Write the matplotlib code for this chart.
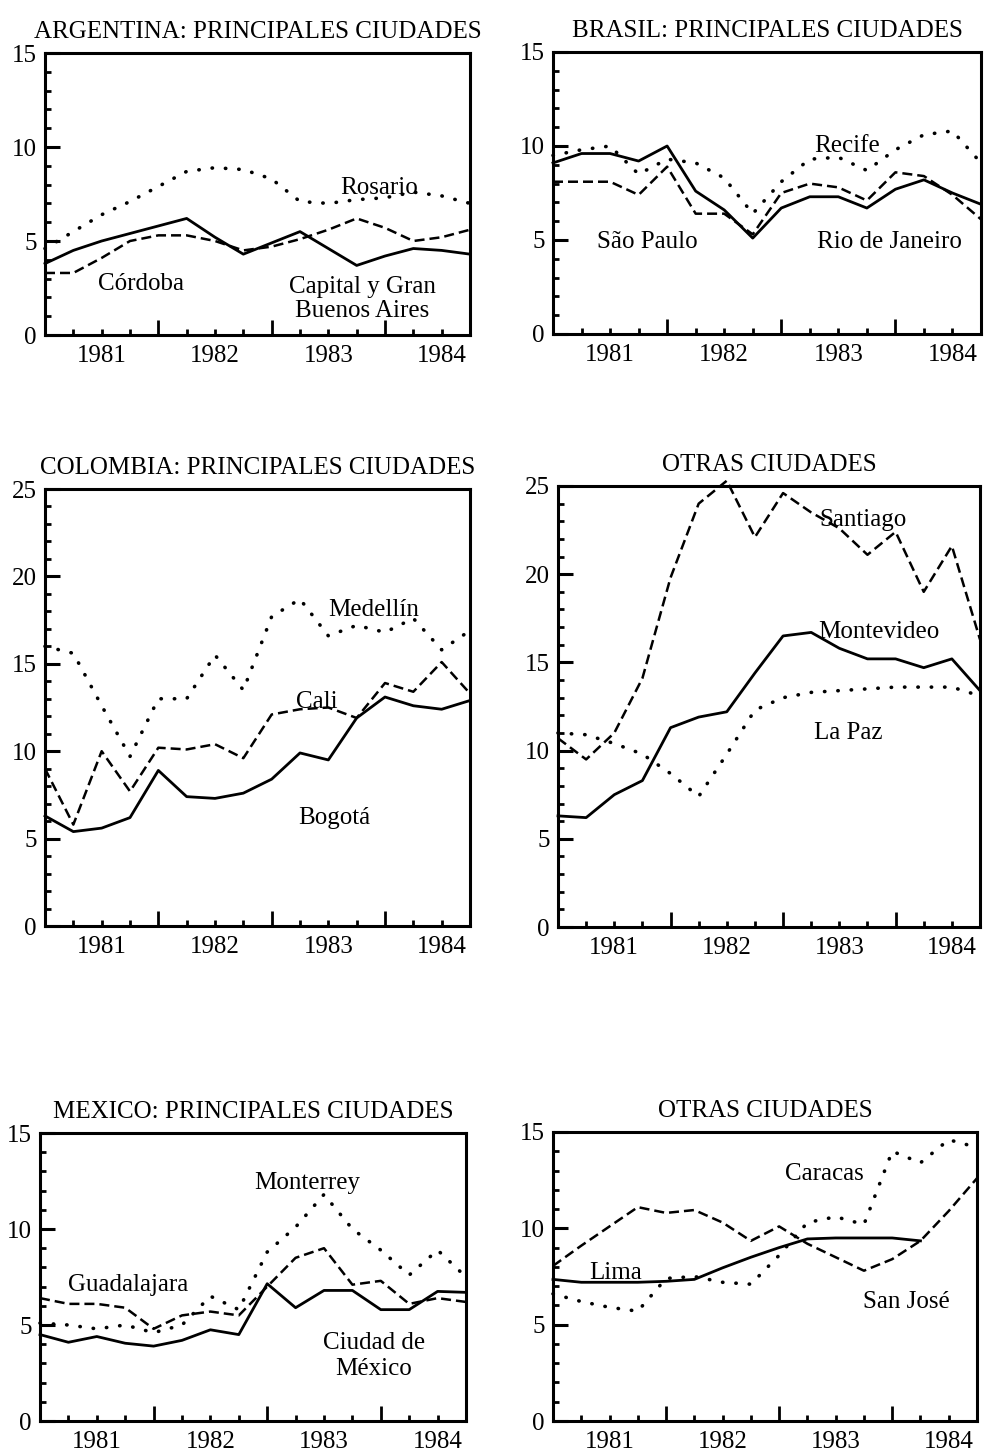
import matplotlib
matplotlib.use('Agg')
import matplotlib.pyplot as plt
import numpy as np
from matplotlib.ticker import FixedLocator, MultipleLocator, FuncFormatter

plt.rcParams['font.family'] = ['Liberation Serif', 'DejaVu Serif']

# quarterly points, 1981 I .. 1984 IV
quarters = np.arange(16)
years = ['1981', '1982', '1983', '1984']
year_centers = [2, 6, 10, 14]

# Argentina
buenos_aires = [3.8, 4.5, 5.0, 5.4, 5.8, 6.2, 5.2, 4.3, 4.9, 5.5, 4.6, 3.7, 4.2, 4.6, 4.5, 4.3]
cordoba = [3.3, 3.3, 4.1, 5.0, 5.3, 5.3, 5.0, 4.5, 4.7, 5.1, 5.6, 6.2, 5.7, 5.0, 5.2, 5.6]
rosario = [4.6, 5.5, 6.4, 7.1, 7.9, 8.7, 8.9, 8.8, 8.3, 7.1, 7.0, 7.2, 7.3, 7.6, 7.4, 7.0]

# Brasil
sao_paulo = [9.1, 9.6, 9.6, 9.2, 10.0, 7.6, 6.6, 5.1, 6.7, 7.3, 7.3, 6.7, 7.7, 8.2, 7.5, 6.9]
rio = [8.1, 8.1, 8.1, 7.4, 8.9, 6.4, 6.4, 5.3, 7.5, 8.0, 7.8, 7.1, 8.6, 8.4, 7.4, 6.1]
recife = [9.5, 9.8, 10.0, 8.5, 9.3, 9.1, 8.3, 6.4, 8.1, 9.3, 9.4, 8.7, 9.8, 10.6, 10.8, 9.1]

# Colombia
bogota = [6.3, 5.4, 5.6, 6.2, 8.9, 7.4, 7.3, 7.6, 8.4, 9.9, 9.5, 11.9, 13.1, 12.6, 12.4, 12.9]
cali = [9.0, 5.8, 10.0, 7.7, 10.2, 10.1, 10.4, 9.6, 12.1, 12.4, 12.5, 11.9, 13.9, 13.4, 15.1, 13.3]
medellin = [16.0, 15.6, 12.6, 9.7, 13.0, 13.0, 15.5, 13.5, 17.7, 18.7, 16.6, 17.2, 16.8, 17.6, 15.8, 16.9]

# Otras ciudades (1)
montevideo = [6.3, 6.2, 7.5, 8.3, 11.3, 11.9, 12.2, 14.4, 16.5, 16.7, 15.8, 15.2, 15.2, 14.7, 15.2, 13.4]
santiago = [10.7, 9.5, 11.0, 14.1, 19.8, 24.0, 25.3, 22.1, 24.6, 23.5, 22.6, 21.1, 22.4, 19.0, 21.6, 16.3]
la_paz = [11.0, 10.9, 10.4, 9.8, 8.7, 7.4, 9.8, 12.3, 13.0, 13.3, 13.4, 13.5, 13.6, 13.6, 13.6, 13.1]

# Mexico
ciudad_mexico = [4.5, 4.1, 4.4, 4.05, 3.9, 4.2, 4.75, 4.5, 7.15, 5.9, 6.8, 6.8, 5.8, 5.8, 6.75, 6.7]
guadalajara = [6.4, 6.1, 6.1, 5.9, 4.8, 5.5, 5.7, 5.5, 7.0, 8.5, 9.0, 7.1, 7.3, 6.1, 6.4, 6.2]
monterrey = [5.1, 5.0, 4.8, 5.0, 4.6, 5.0, 6.5, 5.8, 8.8, 10.1, 11.8, 10.0, 8.9, 7.6, 8.9, 7.5]

# Otras ciudades (2)
lima = [7.35, 7.2, 7.2, 7.2, 7.25, 7.35, 7.95, 8.5, 9.0, 9.45, 9.5, 9.5, 9.5, 9.35, np.nan, np.nan]
san_jose = [8.05, 9.1, 10.1, 11.1, 10.8, 10.95, 10.3, 9.35, 10.1, 9.2, 8.5, 7.8, 8.4, 9.35, 10.9, 12.6]
caracas = [6.6, 6.2, 5.9, 5.7, 7.4, 7.5, 7.2, 7.1, 8.6, 10.3, 10.6, 10.2, 14.0, 13.4, 14.6, 14.2]

W, H = 985, 1451
fig = plt.figure(figsize=(W / 100, H / 100), dpi=100)


def panel(rect, title, ymax):
    l, t, r, b = rect
    ax = fig.add_axes([l / W, 1 - b / H, (r - l) / W, (b - t) / H])
    ax.set_xlim(0, 15)
    ax.set_ylim(0, ymax)
    for s in ax.spines.values():
        s.set_linewidth(2.2)
    ax.set_title(title, fontsize=18, pad=11)
    # y ticks
    ax.yaxis.set_major_locator(MultipleLocator(5))
    ax.yaxis.set_minor_locator(MultipleLocator(1))
    ax.tick_params(axis='y', which='major', direction='in', length=11, width=2.2,
                   labelsize=18, pad=6)
    ax.tick_params(axis='y', which='minor', direction='in', length=4, width=2)
    # x ticks: long ones at year boundaries, small ones every quarter
    ax.xaxis.set_major_locator(FixedLocator([4, 8, 12]))
    ax.xaxis.set_major_formatter(FuncFormatter(lambda v, p: ''))
    ax.xaxis.set_minor_locator(MultipleLocator(1))
    ax.xaxis.set_minor_formatter(FuncFormatter(
        lambda v, p: years[year_centers.index(int(round(v)))] if int(round(v)) in year_centers else ''))
    ax.tick_params(axis='x', which='major', direction='in', length=11, width=2)
    ax.tick_params(axis='x', which='minor', direction='in', length=4, width=2,
                   labelsize=18, pad=7)
    return ax


def lines(ax, solid, dashed, dotted):
    ax.plot(quarters, solid, color='black', lw=2.0, clip_on=False)
    ax.plot(quarters, dashed, color='black', lw=1.8, ls=(0, (4, 2)), clip_on=False)
    ax.plot(quarters, dotted, color='black', lw=2.6, ls=(0, (0.1, 3.6)),
            dash_capstyle='round', clip_on=False)


lab = dict(fontsize=18, ha='center', va='center')

# ARGENTINA
ax = panel((45, 53, 470, 335), 'ARGENTINA: PRINCIPALES CIUDADES', 15)
lines(ax, buenos_aires, cordoba, rosario)
ax.text(11.8, 7.8, 'Rosario', **lab)
ax.text(3.4, 2.7, 'Córdoba', **lab)
ax.text(11.2, 1.9, 'Capital y Gran\nBuenos Aires', linespacing=1.1, **lab)

# BRASIL
ax = panel((553, 52, 981, 334), 'BRASIL: PRINCIPALES CIUDADES', 15)
lines(ax, sao_paulo, rio, recife)
ax.text(10.3, 10.0, 'Recife', **lab)
ax.text(3.3, 4.9, 'São Paulo', **lab)
ax.text(11.8, 4.9, 'Rio de Janeiro', **lab)

# COLOMBIA
ax = panel((45, 489, 470, 926), 'COLOMBIA: PRINCIPALES CIUDADES', 25)
lines(ax, bogota, cali, medellin)
ax.text(11.6, 18.1, 'Medellín', **lab)
ax.text(9.6, 12.8, 'Cali', **lab)
ax.text(10.2, 6.2, 'Bogotá', **lab)

# OTRAS CIUDADES
ax = panel((558, 486, 980, 927), 'OTRAS CIUDADES', 25)
lines(ax, montevideo, santiago, la_paz)
ax.text(10.85, 23.1, 'Santiago', **lab)
ax.text(11.4, 16.7, 'Montevideo', **lab)
ax.text(10.3, 11.0, 'La Paz', **lab)

# MEXICO
ax = panel((40, 1133, 466, 1421), 'MEXICO: PRINCIPALES CIUDADES', 15)
lines(ax, ciudad_mexico, guadalajara, monterrey)
ax.text(9.4, 12.4, 'Monterrey', **lab)
ax.text(3.1, 7.1, 'Guadalajara', **lab)
ax.text(11.75, 3.4, 'Ciudad de\nMéxico', linespacing=1.25, **lab)

# OTRAS CIUDADES
ax = panel((553, 1132, 977, 1421), 'OTRAS CIUDADES', 15)
lines(ax, lima, san_jose, caracas)
ax.text(9.6, 12.8, 'Caracas', **lab)
ax.text(2.2, 7.7, 'Lima', **lab)
ax.text(12.5, 6.2, 'San José', **lab)

fig.savefig('out.png', dpi=100)
